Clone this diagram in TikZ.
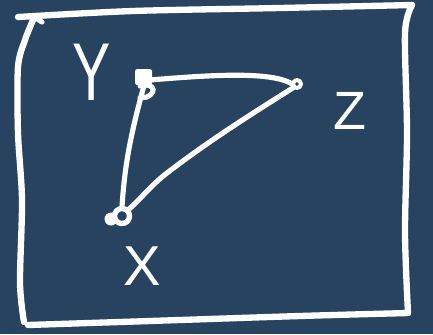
\documentclass[tikz,border=0pt]{standalone}
\usepackage{fontspec}
\setmainfont{Liberation Sans}
\usetikzlibrary{positioning}
\definecolor{board}{RGB}{40,67,95}

\begin{document}
\begin{tikzpicture}[x=0.03cm, y=-0.03cm,
    chalk/.style={white, line width=4.4pt, line cap=round, line join=round},
    vert/.style={circle, inner sep=0pt, minimum size=9pt},
    lbl/.style={text=white, inner sep=0pt}]
    % Board
    \fill[board] (0,0) rectangle (433,334);
    % Frame
    \draw[chalk, line width=5.4pt] plot[smooth] coordinates {(18,17) (133,11) (280,8) (412,5)};
    \draw[chalk, line width=5.4pt] plot[smooth] coordinates {(412,5) (405,33) (407,133) (405,233) (408,313)};
    \draw[chalk, line width=5.4pt] plot[smooth] coordinates {(408,313) (300,316) (150,321) (28,325)};
    \draw[chalk, line width=5.4pt] plot[smooth] coordinates {(33,20) (25,40) (18,67) (18,133) (22,200) (20,283) (24,322)};
    \draw[chalk] (36,18) -- (42,22);
    % Vertices
    \node[vert] (Y) at (144,80) {};
    \node[vert, minimum size=8pt] (Z) at (297,84) {};
    \node[vert, minimum size=15pt] (X) at (122,216) {};
    \fill[white, rounded corners=2pt] (135,69) rectangle (152,85);
    \draw[chalk] (140,86) .. controls (150,82) and (160,90) .. (147,97) -- (140,98);
    \draw[chalk, line width=3.4pt] (Z) circle (4);
    \draw[chalk, line width=4.6pt] (X) circle (7.5);
    \fill[white] (111,219) circle (6.5);
    % Edges
    \draw[chalk] (Y.east) .. controls (200,76) and (270,70) .. (Z.west);
    \draw[chalk] (Z.south west) .. controls (250,115) and (210,140) .. (167,173)
        .. controls (150,186) and (140,200) .. (X.north east);
    \draw[chalk] (Y.south) .. controls (132,130) and (125,160) .. (X.north);
    % Labels
    \node[lbl, font=\fontsize{70}{74}\selectfont, xscale=0.7] (ly) at (92,72) {Y};
    \node[lbl, font=\fontsize{46}{50}\selectfont] (lz) at (350,111) {Z};
    \node[lbl, font=\fontsize{48}{52}\selectfont] (lx) at (142,266) {X};
\end{tikzpicture}
\end{document}
